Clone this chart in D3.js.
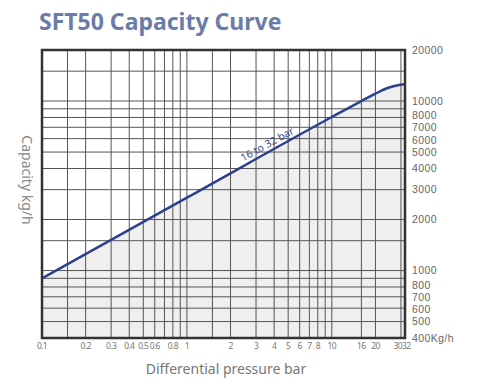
<!DOCTYPE html>
<html>
<head>
<meta charset="utf-8">
<script src="https://cdn.jsdelivr.net/npm/d3@7"></script>
<style>
  body { margin: 0; background: #fff; }
  svg { display: block; font-family: "Noto Sans", sans-serif; }
</style>
</head>
<body>
<svg id="chart" width="500" height="389"></svg>
<script>
// pressure (bar) vs capacity (kg/h)
var pressure = [0.1, 1, 10, 16, 20, 24, 28, 32];
var capacity = [900, 2690, 8050, 10000, 11050, 11900, 12350, 12550];

var xTicks = [0.1, 0.2, 0.3, 0.4, 0.5, 0.6, 0.8, 1, 2, 3, 4, 5, 6, 7, 8, 10, 16, 20, 30, 32];
var xGrid = [0.15, 0.2, 0.3, 0.4, 0.5, 0.6, 0.7, 0.8, 0.9, 1, 1.5, 2, 3, 4, 5, 6, 7, 8, 9, 10, 16, 20, 30];
var yTicks = [20000, 10000, 8000, 7000, 6000, 5000, 4000, 3000, 2000, 1000, 800, 700, 600, 500, 400];
var yGrid = [500, 600, 700, 800, 900, 1000, 1500, 2000, 3000, 4000, 5000, 6000, 7000, 8000, 9000, 10000, 15000];

var svg = d3.select('#chart');

var margin = {top: 50, right: 95, bottom: 51, left: 42},
    width = 500 - margin.left - margin.right,
    height = 389 - margin.top - margin.bottom;

var x = d3.scaleLog().domain([0.1, 32]).range([0, width]);
var y = d3.scaleLog().domain([400, 20000]).range([height, 0]);

var data = pressure.map(function(p, i) { return {p: p, c: capacity[i]}; });

var g = svg.append('g')
    .attr('transform', 'translate(' + margin.left + ',' + margin.top + ')');

// shaded area under the curve
var area = d3.area()
    .x(function(d) { return x(d.p); })
    .y0(height)
    .y1(function(d) { return y(d.c); })
    .curve(d3.curveMonotoneX);

g.append('path')
    .datum(data)
    .attr('d', area)
    .attr('fill', '#efefef');

// grid
g.append('g').selectAll('line')
    .data(xGrid)
    .enter().append('line')
    .attr('x1', function(d) { return x(d); })
    .attr('x2', function(d) { return x(d); })
    .attr('y1', 0)
    .attr('y2', height)
    .attr('stroke', '#555')
    .attr('stroke-width', 1);

g.append('g').selectAll('line')
    .data(yGrid)
    .enter().append('line')
    .attr('x1', 0)
    .attr('x2', width)
    .attr('y1', function(d) { return y(d); })
    .attr('y2', function(d) { return y(d); })
    .attr('stroke', '#555')
    .attr('stroke-width', 1);

// curve
var line = d3.line()
    .x(function(d) { return x(d.p); })
    .y(function(d) { return y(d.c); })
    .curve(d3.curveMonotoneX);

g.append('path')
    .datum(data)
    .attr('d', line)
    .attr('fill', 'none')
    .attr('stroke', '#2e3f8c')
    .attr('stroke-width', 2.5);

// curve label, sits on the straight part of the line
var lp = 3.8;
var lx = x(lp), ly = y(capacity[1] * Math.pow(lp, Math.log10(capacity[2] / capacity[1])));
var ang = Math.atan2(y(capacity[2]) - y(capacity[1]), x(10) - x(1)) * 180 / Math.PI;
g.append('text')
    .attr('transform', 'translate(' + lx + ',' + ly + ')rotate(' + ang + ')')
    .attr('dy', -4)
    .attr('text-anchor', 'middle')
    .attr('fill', '#3b4b8e')
    .attr('font-size', '10.5px')
    .text('16 to 32 bar');

// frame
g.append('rect')
    .attr('width', width)
    .attr('height', height)
    .attr('fill', 'none')
    .attr('stroke', '#333')
    .attr('stroke-width', 2.5);

// x tick labels
g.append('g').selectAll('text')
    .data(xTicks)
    .enter().append('text')
    .attr('x', function(d) { return x(d); })
    .attr('y', height + 11)
    .attr('text-anchor', function(d) { return d == 30 ? 'end' : d == 32 ? 'start' : 'middle'; })
    .attr('dx', function(d) { return d == 30 ? 1 : d == 32 ? -3 : 0; })
    .attr('fill', '#777')
    .attr('font-size', '8.5px')
    .attr('letter-spacing', '-0.6px')
    .text(function(d) { return d; });

// y tick labels (right side), spread apart where they crowd
var gap = 12.2;
var lpos = yTicks.map(function(d) { return y(d); });
for (var it = 0; it < 200; it++) {
    for (var i = 1; i < lpos.length; i++) {
        var over = gap - (lpos[i] - lpos[i - 1]);
        if (over > 0) {
            lpos[i - 1] -= over / 2;
            lpos[i] += over / 2;
        }
    }
}

g.append('g').selectAll('text')
    .data(yTicks)
    .enter().append('text')
    .attr('x', width + 7)
    .attr('y', function(d, i) { return lpos[i]; })
    .attr('dy', '0.35em')
    .attr('fill', '#666')
    .attr('font-family', '"Liberation Sans", sans-serif')
    .attr('font-size', '10.5px')
    .attr('letter-spacing', '0.4px')
    .text(function(d) { return d == 400 ? '400Kg/h' : d; });

// axis titles
svg.append('text')
    .attr('x', 226)
    .attr('y', 374)
    .attr('text-anchor', 'middle')
    .attr('fill', '#777')
    .attr('font-size', '14px')
    .text('Differential pressure bar');

svg.append('text')
    .attr('transform', 'translate(22,180)rotate(90)')
    .attr('text-anchor', 'middle')
    .attr('fill', '#888')
    .attr('font-size', '14px')
    .text('Capacity kg/h');

// title
svg.append('text')
    .attr('x', 39)
    .attr('y', 30)
    .attr('fill', '#6b7ca8')
    .attr('font-size', '23px')
    .attr('font-weight', 'bold')
    .text('SFT50 Capacity Curve');
</script>
</body>
</html>
